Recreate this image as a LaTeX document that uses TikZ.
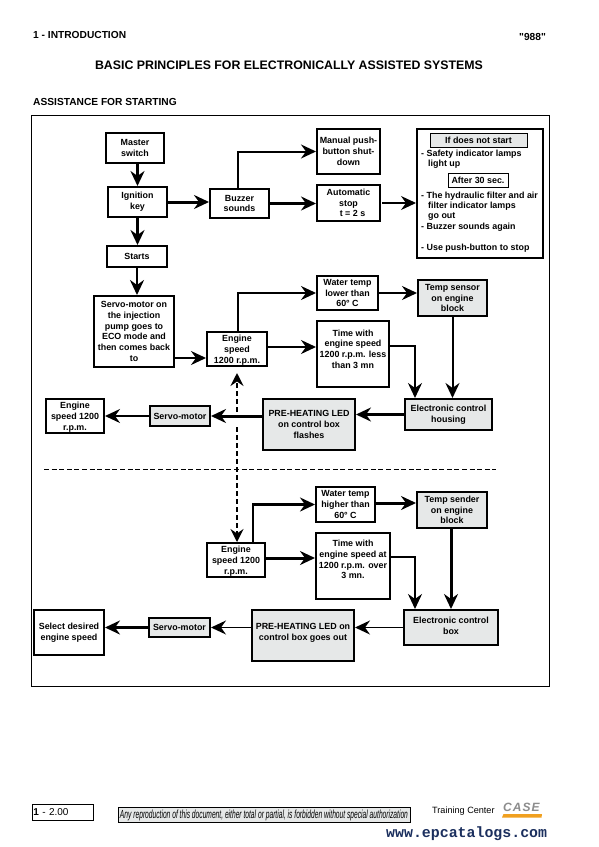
\documentclass[tikz,border=0pt]{standalone}
\usepackage{fontspec}
\usepackage{graphicx}
\setmainfont{Liberation Sans}
\newfontfamily\wwwfont{Liberation Mono}
\newfontfamily\quotefont{Liberation Sans}
\usetikzlibrary{arrows.meta}
\definecolor{panel}{HTML}{E6E8E8}
\definecolor{webblue}{HTML}{1B2F5E}
\definecolor{caseorange}{HTML}{F0A020}
\newcommand{\lowered}{\rule{0pt}{9pt}}
\tikzset{
  txt/.style={font=\bfseries\fontsize{8.9}{10.7}\selectfont, align=center, inner sep=0pt},
  ltxt/.style={font=\bfseries\fontsize{8.9}{10.7}\selectfont, anchor=west, inner sep=0pt},
  box/.style={draw, line width=2pt, fill=white, txt},
  greybox/.style={box, fill=panel},
  con/.style={line width=#1, -{Stealth[length=15pt,width=14pt,inset=5pt]}},
  con/.default=2pt,
  dashcon/.style={line width=2pt, dash pattern=on 5pt off 3pt, -{Stealth[length=13pt,width=13pt,inset=4.5pt]}},
  hdr/.style={font=\bfseries\fontsize{10.2}{12}\selectfont, anchor=west, inner sep=0pt},
}
\begin{document}
\begin{tikzpicture}[x=1pt,y=-1pt]
\useasboundingbox[fill=white] (0,0) rectangle (598,847);
% heading
\node[hdr] (chap) at (33,35) {1 - INTRODUCTION};
\node[hdr] (model) at (519,37) {\quotefont\bfseries "988"};
\node[font=\bfseries\fontsize{12.35}{14}\selectfont, inner sep=0pt] (title) at (289,65) {BASIC PRINCIPLES FOR ELECTRONICALLY ASSISTED SYSTEMS};
\node[hdr] (sub) at (33,102) {ASSISTANCE FOR STARTING};
% frame
\draw[line width=1pt] (31,115) rectangle (549,686);
% upper chain
\node[box, minimum width=58pt, minimum height=30pt] (master) at (135,148) {Master\\switch};
\node[box, minimum width=59pt, minimum height=30pt] (ign) at (137.5,202) {Ignition\hspace{4pt}\\key\hspace{4pt}};
\node[box, minimum width=60pt, minimum height=21pt] (starts) at (137,256.5) {Starts};
\node[box, minimum width=59pt, minimum height=29pt] (buzzer) at (239.5,203.5) {Buzzer\\sounds};
\node[box, minimum width=63pt, minimum height=45pt] (manual) at (348.5,151.5) {Manual push-\\button shut-\\down};
\node[box, minimum width=63pt, minimum height=36pt] (auto) at (348.5,203) {Automatic\\stop\hspace{5pt}\\\hspace{8pt}t = 2 s};
\node[box, minimum width=126pt, minimum height=129pt] (ifbox) at (480,193.5) {};
\node[draw, line width=1pt, fill=panel, txt, minimum width=97pt, minimum height=14pt] (ifhead) at (478.5,140) {If does not start};
\node[draw, line width=1pt, fill=white, txt, minimum width=60pt, minimum height=14pt] (after) at (478,180) {After 30 sec.};
\node[ltxt] (l1) at (421,154) {- Safety indicator lamps};
\node[ltxt] (l2) at (428,164.5) {light up};
\node[ltxt] (l3) at (421,196) {- The hydraulic filter and air};
\node[ltxt] (l4) at (428,206.5) {filter indicator lamps};
\node[ltxt] (l5) at (428,217) {go out};
\node[ltxt] (l6) at (421,227) {- Buzzer sounds again};
\node[ltxt] (l7) at (421,248) {- Use push-button to stop};
% middle block
\node[box, minimum width=80pt, minimum height=71pt] (servoA) at (134,331.5) {Servo-motor on\\the injection\\pump goes to\\ECO mode and\\then comes back\\to};
\node[box, minimum width=60pt, minimum height=34pt] (engA) at (237,349) {\lowered Engine\\speed\\1200 r.p.m.};
\node[box, minimum width=61pt, minimum height=34pt] (waterA) at (347.5,293) {Water temp\\lower than\\60° C};
\node[greybox, minimum width=69pt, minimum height=36pt] (sensor) at (452.5,298) {Temp sensor\\on engine\\block};
\node[box, minimum width=72pt, minimum height=66pt, anchor=north] (timeA) at (353,320) {Time with\\engine speed\\1200 r.p.m. less\\than 3 mn\\[-0.7pt]\mbox{}};
\node[greybox, minimum width=87pt, minimum height=31pt] (ecuA) at (448.5,414.5) {Electronic control\\housing};
\node[greybox, minimum width=92pt, minimum height=51pt] (preA) at (309,424.5) {PRE-HEATING LED\\on control box\\flashes};
\node[greybox, minimum width=60pt, minimum height=20pt] (servoB) at (180,416) {Servo-motor};
\node[box, minimum width=58pt, minimum height=34pt] (engL) at (75,416) {\lowered Engine\\speed 1200\\r.p.m.};
% separator
\coordinate (sepL) at (44,469);
\coordinate (sepR) at (496,469);
\draw[line width=1pt, dash pattern=on 5pt off 2.6pt] (sepL) -- (sepR);
% lower block
\node[box, minimum width=58pt, minimum height=34pt] (engB) at (236,560) {\lowered Engine\\speed 1200\\r.p.m.};
\node[box, minimum width=59pt, minimum height=35pt] (waterB) at (345.5,504.5) {Water temp\\higher than\\60° C};
\node[greybox, minimum width=70pt, minimum height=36pt] (sender) at (452,510) {Temp sender\\on engine\\block};
\node[box, minimum width=74pt, minimum height=66pt, anchor=north] (timeB) at (353,532) {Time with\\engine speed at\\1200 r.p.m. over\\3 mn.\\[2.3pt]\mbox{}};
\node[greybox, minimum width=94pt, minimum height=35pt] (ecuB) at (451,627.5) {Electronic control\\box\\[-7.7pt]\mbox{}};
\node[greybox, minimum width=102pt, minimum height=51pt] (preB) at (303,635.5) {PRE-HEATING LED on\\control box goes out\\[-3.7pt]\mbox{}};
\node[greybox, minimum width=61pt, minimum height=19pt] (servoC) at (179.5,627.5) {Servo-motor};
\node[box, minimum width=70pt, minimum height=45pt] (select) at (69,632.5) {Select desired\\engine speed};
% connectors: upper
\draw[con=3pt] (master.south -| ign.north) -- (ign.north);
\draw[con=3pt] (ign.east) -- (ign.east -| buzzer.west);
\draw[con=3pt] (ign.south) -- (starts.north -| ign.south);
\draw[con=2.6pt] (starts.south) -- (servoA.north -| starts.south);
\draw[con=2pt] ([xshift=-1.5pt]buzzer.north) |- (manual.west);
\draw[con=3pt] (buzzer.east) -- (buzzer.east -| auto.west);
\draw[con=1.2pt] ([xshift=1pt]auto.east) -- (auto.east -| ifbox.west);
% connectors: middle
\draw[con=2pt] ([yshift=-9pt]engA.west -| servoA.east) -- ([yshift=-9pt]engA.west);
\draw[con=2pt] ([xshift=1pt]engA.north) |- (waterA.west);
\draw[con=2pt] ([yshift=2pt]engA.east) -- ([yshift=2pt]engA.east -| timeA.west);
\draw[con=2pt] (waterA.east) -- (waterA.east -| sensor.west);
\draw[con=2pt] (sensor.south) -- (sensor.south |- ecuA.north);
\coordinate (kneeA) at (415,346);
\draw[con=2pt] (kneeA -| timeA.east) -- (kneeA) -- (kneeA |- ecuA.north);
\draw[con=2.6pt] (ecuA.west) -- (ecuA.west -| preA.east);
\draw[con=3pt] (servoB.east -| preA.west) -- (servoB.east);
\draw[con=2pt] (servoB.west) -- (engL.east);
% dashed link
\coordinate (dashA) at (237,412);
\coordinate (dashB) at (237,427);
\draw[dashcon] (dashA) -- ([yshift=-6pt]engA.south);
\draw[dashcon] (dashB) -- ([xshift=1pt]engB.north);
% connectors: lower
\draw[con=2.6pt] ([xshift=17pt]engB.north) |- (waterB.west);
\draw[con=3pt] ([yshift=2pt]engB.east) -- ([yshift=2pt]engB.east -| timeB.west);
\draw[con=3pt] ([yshift=1.5pt]waterB.east) -- ([yshift=1.5pt]waterB.east -| sender.west);
\draw[con=3pt] (sender.south -| ecuB.north) -- (ecuB.north);
\coordinate (kneeB) at (415,557);
\draw[con=2pt] (kneeB -| timeB.east) -- (kneeB) -- (kneeB |- ecuB.north);
\draw[con=1.5pt] (ecuB.west) -- (ecuB.west -| preB.east);
\draw[con=1.2pt] (servoC.east -| preB.west) -- (servoC.east);
\draw[con=3pt] (servoC.west) -- (servoC.west -| select.east);
% footer
\node[draw, line width=1pt, font=\fontsize{10}{12}\selectfont, anchor=west, minimum width=61pt, minimum height=16pt, inner sep=1pt, text width=59pt] (page) at (32,812) {\textbf{1} - 2.00};
\node[draw, line width=0.8pt, fill=panel, inner sep=1pt, minimum width=292pt, minimum height=15.5pt] (notice) at (264,815) {\resizebox{288pt}{8.5pt}{\itshape Any reproduction of this document, either total or partial, is forbidden without special authorization}};
\node[font=\fontsize{9.1}{10}\selectfont, anchor=west, inner sep=0pt] (tc) at (432,811) {Training Center};
\node[font=\bfseries\itshape\fontsize{12}{13}\selectfont, text=black!45, anchor=west, inner sep=0pt] (case) at (503,807) {C\hspace{1pt}A\hspace{1pt}S\hspace{1pt}E};
\fill[caseorange] (503.5,814) -- (542,814) -- (541.5,817.5) -- (502,817.5) -- cycle;
\node[font=\wwwfont\bfseries\fontsize{14.9}{16}\selectfont, text=webblue, anchor=west, inner sep=0pt] (web) at (386,834) {www.epcatalogs.com};
\end{tikzpicture}
\end{document}
